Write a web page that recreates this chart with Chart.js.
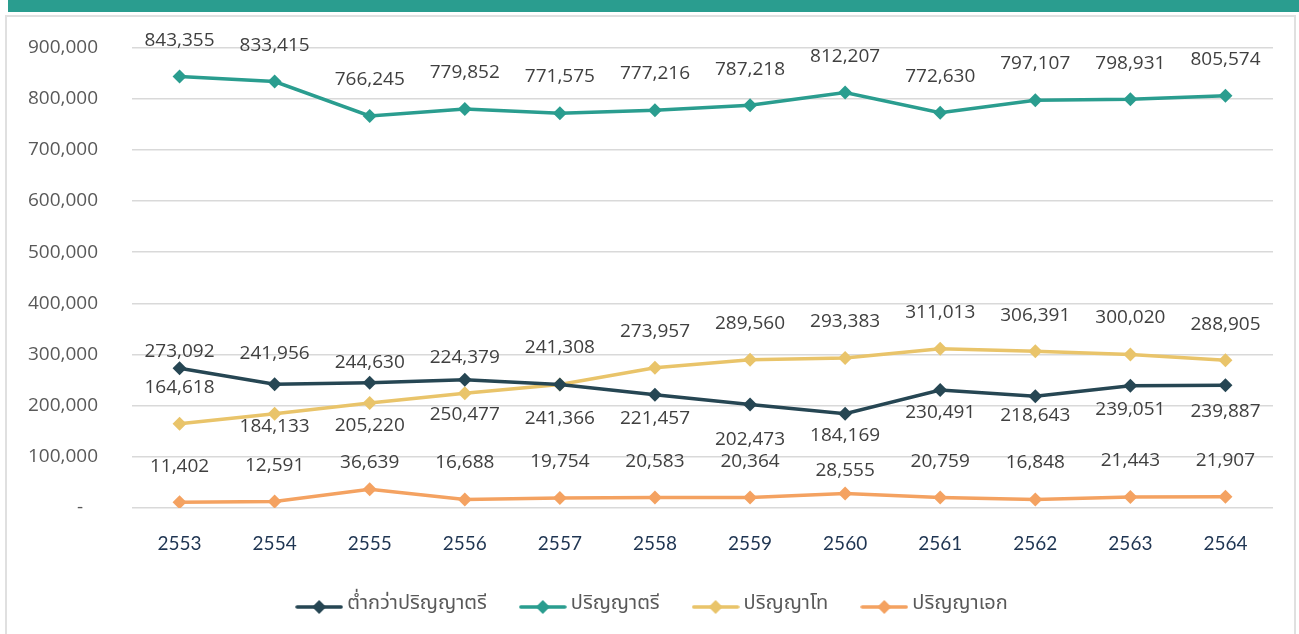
<!DOCTYPE html>
<html>
<head>
<meta charset="utf-8">
<script src="https://cdn.jsdelivr.net/npm/chart.js@4.4.1/dist/chart.umd.min.js"></script>
<style>
  html, body { margin: 0; padding: 0; background: #ffffff; width: 1299px; height: 634px; overflow: hidden; }
  #header { position: absolute; left: 8px; top: 0; width: 1291px; height: 12px; background: #2a9d8f; }
  #frame { position: absolute; left: 5px; top: 15px; width: 1291px; height: 700px; border: 2px solid #e0e0e0; box-sizing: border-box; }
  #c { position: absolute; left: 0; top: 0; }
</style>
</head>
<body>
<div id="header"></div>
<div id="frame"></div>
<canvas id="c" width="1299" height="634"></canvas>
<script>
// ---- data ----
const years = ['2553','2554','2555','2556','2557','2558','2559','2560','2561','2562','2563','2564'];
const seriesNames = ['ต่ำกว่าปริญญาตรี','ปริญญาตรี','ปริญญาโท','ปริญญาเอก'];
const belowBachelor = [273092, 241956, 244630, 250477, 241366, 221457, 202473, 184169, 230491, 218643, 239051, 239887];
const bachelor = [843355, 833415, 766245, 779852, 771575, 777216, 787218, 812207, 772630, 797107, 798931, 805574];
const master = [164618, 184133, 205220, 224379, 241308, 273957, 289560, 293383, 311013, 306391, 300020, 288905];
const doctorate = [11402, 12591, 36639, 16688, 19754, 20583, 20364, 28555, 20759, 16848, 21443, 21907];
const yTicks = [0, 100000, 200000, 300000, 400000, 500000, 600000, 700000, 800000, 900000];

// ---- styling (not data) ----
const colors = ['#264653', '#2a9d8f', '#e9c46a', '#f4a261'];
// vertical offset of each value label from its point, in px (label placement)
const labelOffsets = [
  [-17, -31, -20, 35, 34.5, 24, 35, 22, 23, 19, 24, 26],
  [-36, -36, -36, -36, -36.5, -37, -36, -36, -36.5, -36.5, -36, -36.5],
  [-36, 13, 23, -36, -37, -36, -36, -36, -36, -36, -37, -36],
  [-36, -36, -27, -37, -36, -36, -36, -23, -36, -37, -36, -36]
];

function legendIcon(color) {
  const cv = document.createElement('canvas');
  cv.width = 48; cv.height = 20;
  const g = cv.getContext('2d');
  const cy = 12;
  g.strokeStyle = color; g.lineWidth = 3.5; g.lineCap = 'round';
  g.beginPath(); g.moveTo(2, cy); g.lineTo(46, cy); g.stroke();
  g.fillStyle = color;
  g.beginPath(); g.moveTo(24, cy - 7); g.lineTo(31, cy); g.lineTo(24, cy + 7); g.lineTo(17, cy); g.closePath(); g.fill();
  return cv;
}

const valueLabels = {
  id: 'valueLabels',
  afterDatasetsDraw(chart) {
    const ctx = chart.ctx;
    ctx.save();
    ctx.font = '19px "Open Sans", sans-serif';
    ctx.fillStyle = '#404040';
    ctx.textAlign = 'center';
    ctx.textBaseline = 'middle';
    chart.data.datasets.forEach((ds, di) => {
      const meta = chart.getDatasetMeta(di);
      meta.data.forEach((pt, i) => {
        const v = ds.data[i];
        ctx.fillText(v.toLocaleString('en-US'), pt.x, pt.y + labelOffsets[di][i]);
      });
    });
    ctx.restore();
  }
};

// shifts the legend row to the right, as in the original layout
const legendShift = {
  id: 'legendShift',
  afterLayout(chart) {
    if (chart.legend) { chart.legend.left += 18; chart.legend.right += 18; }
  }
};

const seriesData = [belowBachelor, bachelor, master, doctorate];

new Chart(document.getElementById('c'), {
  type: 'line',
  data: {
    labels: years,
    datasets: seriesData.map((d, k) => ({
      label: seriesNames[k],
      data: d,
      borderColor: colors[k],
      backgroundColor: colors[k],
      borderWidth: 3.5,
      pointStyle: 'rectRot',
      pointRadius: 7,
      pointHoverRadius: 7,
      pointBorderWidth: 0,
      tension: 0
    }))
  },
  options: {
    responsive: false,
    animation: false,
    devicePixelRatio: 1,
    layout: { padding: { top: 47.5, left: 0, right: 26, bottom: 9 } },
    plugins: {
      tooltip: { enabled: false },
      legend: {
        position: 'bottom',
        labels: {
          usePointStyle: true,
          pointStyleWidth: 36,
          padding: 38,
          color: '#595959',
          font: { family: '"Noto Sans Thai", "Noto Sans", sans-serif', size: 20 },
          generateLabels(chart) {
            return chart.data.datasets.map((ds, i) => ({
              text: ds.label,
              pointStyle: legendIcon(colors[i]),
              fillStyle: colors[i],
              strokeStyle: colors[i],
              lineWidth: 0,
              fontColor: '#595959',
              hidden: false,
              datasetIndex: i
            }));
          }
        }
      }
    },
    scales: {
      x: {
        offset: true,
        grid: { display: false, drawTicks: false },
        border: { display: false },
        ticks: { color: '#1f3552', font: { family: 'Lato, sans-serif', size: 19 }, padding: 24 },
        afterFit(scale) { scale.height = 49; }
      },
      y: {
        min: 0,
        max: 900000,
        afterBuildTicks(scale) { scale.ticks = yTicks.map(v => ({ value: v })); },
        grid: { color: '#d9d9d9', lineWidth: 1.5, drawTicks: false },
        border: { display: false },
        ticks: {
          color: '#595959',
          font: { family: '"Open Sans", sans-serif', size: 19 },
          padding: 34,
          callback(v) { return v === 0 ? '-   ' : v.toLocaleString('en-US'); }
        },
        afterFit(scale) { scale.width = 132; }
      }
    }
  },
  plugins: [valueLabels, legendShift]
});
</script>
</body>
</html>
